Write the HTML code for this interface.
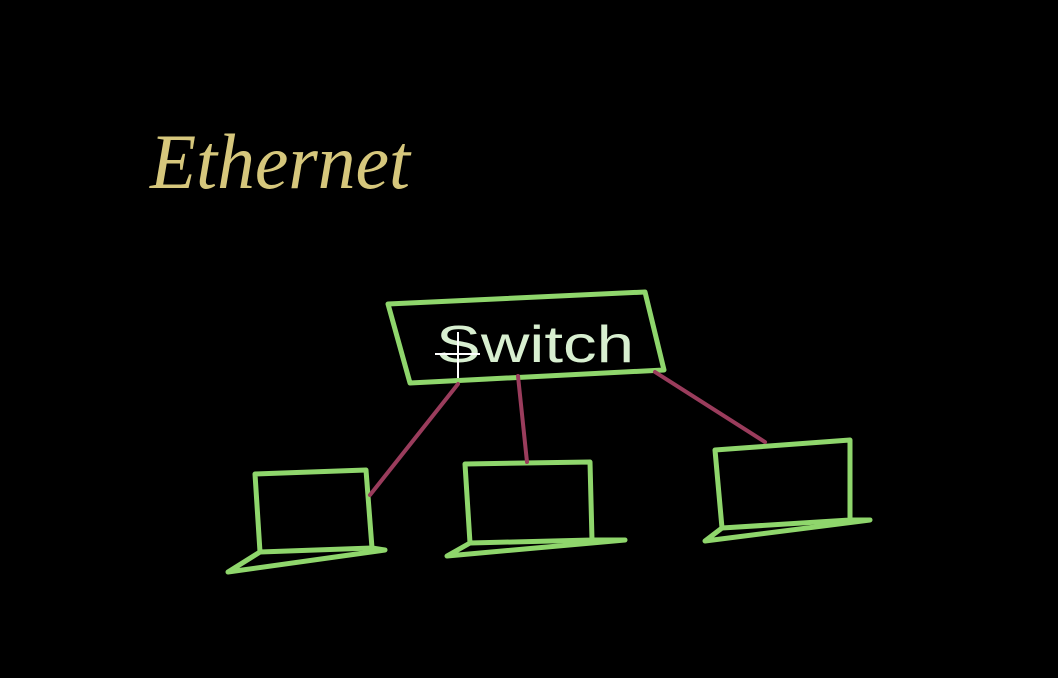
<!DOCTYPE html>
<html><head><meta charset="utf-8"><style>
html,body{margin:0;padding:0;background:#000;width:1058px;height:678px;overflow:hidden}
svg{display:block}
</style></head><body>
<svg width="1058" height="678" viewBox="0 0 1058 678" xmlns="http://www.w3.org/2000/svg">
<rect width="1058" height="678" fill="#000"/>
<text x="150" y="188" font-family="Liberation Serif, serif" font-style="italic" font-size="78" fill="#d6c77c" textLength="260" lengthAdjust="spacingAndGlyphs">Ethernet</text>
<g fill="none" stroke="#8fd66c" stroke-width="5" stroke-linecap="round" stroke-linejoin="round">
  <path d="M388 304 L645 292 L664 370 L410 383 Z"/>
  <!-- laptop 1 -->
  <path d="M255 474 L366 470 L372 548 L260 552 Z"/>
  <path d="M260 552 L228 572 L385 550 L372 548"/>
  <!-- laptop 2 -->
  <path d="M465 464 L590 462 L592 540 L470 543 Z"/>
  <path d="M470 543 L447 556 L625 540 L592 540"/>
  <!-- laptop 3 -->
  <path d="M715 450 L850 440 L850 520 L722 528 Z"/>
  <path d="M722 528 L705 541 L870 520 L850 520"/>
</g>
<g fill="none" stroke="#9a3c5c" stroke-width="4" stroke-linecap="round">
  <path d="M458 384 L370 495"/>
  <path d="M518 376 L527 462"/>
  <path d="M655 372 L765 442"/>
</g>
<text x="436" y="362" font-family="Liberation Sans, sans-serif" font-size="52" fill="#d8efd0" textLength="198" lengthAdjust="spacingAndGlyphs">Switch</text>
<g stroke="#ffffff" stroke-width="2">
  <line x1="435" y1="354" x2="480" y2="354"/>
  <line x1="458" y1="332" x2="458" y2="378"/>
</g>
</svg>
</body></html>
